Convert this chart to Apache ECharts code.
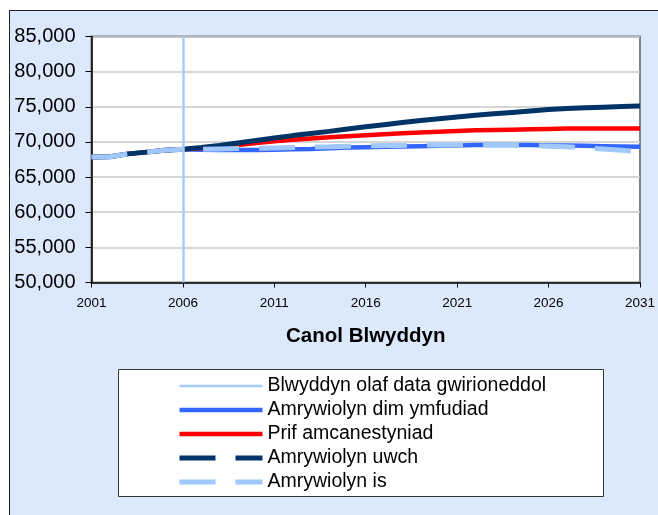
<!DOCTYPE html>
<html>
<head>
<meta charset="utf-8">
<script src="https://cdn.jsdelivr.net/npm/echarts@6/dist/echarts.min.js"></script>
<style>
    html, body { margin: 0; padding: 0; background: #fff; }
    #wrap { position: relative; width: 658px; height: 515px; overflow: hidden; }
    #frame { position: absolute; left: 9px; top: 10px; width: 700px; height: 600px;
             background: #dce9fc; border: 1.5px solid #222; }
    #container { position: absolute; left: 0; top: 0; width: 658px; height: 515px; }
</style>
</head>
<body>
<div id="wrap">
    <div id="frame"></div>
    <div id="container"></div>
</div>
<script>
var years = [];
for (var y = 2001; y <= 2031; y++) years.push(String(y));

var lastDataYear = '2006';

// 2001-2006 are the same for every line
var noMigration = [67850, 67900, 68300, 68550, 68800, 68950,
    68900, 68850, 68850, 68850, 68900, 68950, 69000, 69100, 69200, 69250,
    69300, 69350, 69400, 69450, 69500, 69550, 69550, 69550, 69550, 69500,
    69500, 69450, 69400, 69350, 69300];
var principal = [67850, 67900, 68300, 68550, 68800, 68950,
    69100, 69300, 69550, 69850, 70100, 70300, 70500, 70650, 70800, 70950,
    71100, 71250, 71350, 71450, 71550, 71650, 71700, 71750, 71800, 71850,
    71900, 71900, 71900, 71900, 71900];
var higher = [67850, 67900, 68300, 68550, 68800, 68950,
    69200, 69500, 69850, 70200, 70550, 70900, 71200, 71500, 71850, 72150,
    72450, 72750, 73050, 73300, 73550, 73800, 74000, 74200, 74400, 74600,
    74750, 74850, 74950, 75050, 75100];
var lower = [67850, 67900, 68300, 68550, 68800, 68950,
    68950, 69000, 69050, 69100, 69150, 69200, 69250, 69300, 69400, 69450,
    69500, 69500, 69550, 69550, 69550, 69550, 69550, 69550, 69500, 69400,
    69300, 69150, 69000, 68800, 68600];

var names = ['Blwyddyn olaf data gwirioneddol', 'Amrywiolyn dim ymfudiad',
    'Prif amcanestyniad', 'Amrywiolyn uwch', 'Amrywiolyn is'];

var font = "'Liberation Sans', Arial, sans-serif";
var myChart = echarts.init(document.getElementById('container'));

var option = {
    animation: false,
    backgroundColor: 'transparent',
    textStyle: { fontFamily: font },
    grid: {
        left: 91.5, top: 36.5, right: 13, bottom: 232.5,
        show: true, backgroundColor: '#fff', borderColor: '#808080', borderWidth: 2
    },
    graphic: [{
        type: 'rect', z: -1,
        shape: { x: 118.5, y: 369.5, width: 485, height: 127 },
        style: { fill: '#fff', stroke: '#333', lineWidth: 1 }
    }],
    legend: {
        orient: 'vertical', left: 172, top: 371,
        itemWidth: 83, itemHeight: 14, itemGap: 4,
        itemStyle: { opacity: 0 },
        textStyle: { fontSize: 19.5, lineHeight: 18, color: '#000', fontFamily: font },
        data: [
            { name: names[0], lineStyle: { width: 2.5 } },
            { name: names[1], lineStyle: { width: 4.5 } },
            { name: names[2], lineStyle: { width: 4.5 } },
            { name: names[3], lineStyle: { type: [36, 20], width: 5 } },
            { name: names[4], lineStyle: { type: [36, 20], width: 5 } }
        ]
    },
    xAxis: {
        type: 'category', data: years, boundaryGap: false,
        name: 'Canol Blwyddyn', nameLocation: 'middle', nameGap: 43,
        nameTextStyle: { fontSize: 20.5, fontWeight: 'bold', color: '#000', fontFamily: font },
        axisLine: { lineStyle: { color: '#000', width: 1.5 } },
        axisTick: { interval: 4, length: 5, lineStyle: { color: '#000' } },
        axisLabel: { interval: 4, fontSize: 13.5, color: '#000', margin: 14, fontFamily: font },
        splitLine: { show: false }
    },
    yAxis: {
        type: 'value', min: 50000, max: 85000, interval: 5000,
        axisLine: { show: true, lineStyle: { color: '#000', width: 1.5 } },
        axisTick: { show: true, length: 6, lineStyle: { color: '#000' } },
        axisLabel: {
            fontSize: 20, color: '#000', margin: 16, fontFamily: font,
            formatter: function (v) { return v.toLocaleString('en-US'); }
        },
        splitLine: { lineStyle: { color: '#c8c8c8', width: 1.5 } }
    },
    series: [{
        name: names[0], type: 'line', data: [], symbol: 'none',
        lineStyle: { color: '#a6cdfa', width: 2 }, itemStyle: { color: '#a6cdfa' },
        markLine: {
            silent: true, symbol: 'none', label: { show: false },
            lineStyle: { color: '#a6cdfa', width: 2.5, type: 'solid' },
            data: [{ xAxis: lastDataYear }]
        }
    }, {
        name: names[1], type: 'line', data: noMigration, symbol: 'none',
        lineStyle: { color: '#3366ff', width: 4.5 }, itemStyle: { color: '#3366ff' }
    }, {
        name: names[2], type: 'line', data: principal, symbol: 'none',
        lineStyle: { color: '#ff0000', width: 4.5 }, itemStyle: { color: '#ff0000' }
    }, {
        name: names[3], type: 'line', data: higher, symbol: 'none',
        lineStyle: { color: '#003366', width: 5 }, itemStyle: { color: '#003366' }
    }, {
        name: names[4], type: 'line', data: lower, symbol: 'none',
        lineStyle: { color: '#a0c8fa', width: 5, type: [36, 20] }, itemStyle: { color: '#a0c8fa' }
    }]
};

myChart.setOption(option);
</script>
</body>
</html>
